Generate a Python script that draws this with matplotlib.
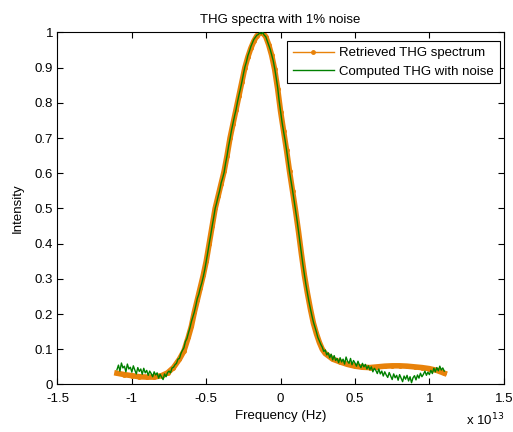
import numpy as np
import matplotlib.pyplot as plt
from matplotlib.lines import Line2D

plt.rcParams['font.family'] = ['Liberation Sans', 'DejaVu Sans']

# retrieved THG spectrum (frequency in units of 1e13 Hz)
retr_freq = [-1.10, -1.05, -1.00, -0.95, -0.90, -0.85, -0.80, -0.76, -0.72, -0.68,
             -0.65, -0.62, -0.60, -0.58, -0.56, -0.54, -0.52, -0.50, -0.48, -0.46,
             -0.44, -0.42, -0.40, -0.38, -0.36, -0.34, -0.32, -0.30, -0.28, -0.26,
             -0.24, -0.22, -0.20, -0.18, -0.16, -0.14, -0.12, -0.10, -0.08, -0.06,
             -0.04, -0.02, 0.00, 0.02, 0.04, 0.06, 0.08, 0.10, 0.12, 0.14,
             0.16, 0.18, 0.20, 0.22, 0.24, 0.26, 0.28, 0.30, 0.35, 0.40,
             0.45, 0.50, 0.55, 0.60, 0.65, 0.70, 0.75, 0.80, 0.85, 0.90,
             0.95, 1.00, 1.05, 1.10]
retr_int = [0.032, 0.028, 0.025, 0.022, 0.021, 0.021, 0.025, 0.033, 0.048, 0.072,
            0.095, 0.135, 0.165, 0.205, 0.240, 0.275, 0.310, 0.350, 0.400, 0.450,
            0.500, 0.535, 0.570, 0.605, 0.650, 0.700, 0.740, 0.780, 0.820, 0.860,
            0.900, 0.930, 0.955, 0.975, 0.990, 0.998, 0.998, 0.988, 0.965, 0.935,
            0.895, 0.840, 0.775, 0.720, 0.665, 0.605, 0.550, 0.495, 0.435, 0.370,
            0.310, 0.260, 0.215, 0.175, 0.145, 0.120, 0.100, 0.088, 0.072, 0.064,
            0.057, 0.052, 0.049, 0.048, 0.050, 0.052, 0.053, 0.053, 0.052, 0.050,
            0.048, 0.045, 0.040, 0.032]

# computed THG with 1% noise, sampled every 0.01e13 Hz from -1.1e13 to 1.1e13
noisy_int = [
    # -1.10 .. -0.80
    0.042, 0.055, 0.038, 0.061, 0.047, 0.052, 0.036, 0.058, 0.044, 0.049,
    0.035, 0.053, 0.041, 0.030, 0.048, 0.037, 0.044, 0.029, 0.046, 0.033,
    0.040, 0.026, 0.038, 0.031, 0.022, 0.036, 0.027, 0.033, 0.018, 0.029,
    0.021,
    # -0.79 .. -0.60
    0.014, 0.030, 0.022, 0.034, 0.038, 0.033, 0.047, 0.049, 0.056, 0.060,
    0.072, 0.074, 0.088, 0.097, 0.104, 0.122, 0.130, 0.146, 0.160, 0.178,
    # -0.59 .. -0.20
    0.192, 0.206, 0.224, 0.244, 0.256, 0.274, 0.288, 0.306, 0.326, 0.350,
    0.374, 0.400, 0.424, 0.450, 0.474, 0.500, 0.516, 0.534, 0.550, 0.572,
    0.586, 0.602, 0.628, 0.650, 0.676, 0.698, 0.722, 0.742, 0.762, 0.780,
    0.802, 0.822, 0.840, 0.860, 0.882, 0.902, 0.916, 0.934, 0.946, 0.960,
    # -0.19 .. 0.20
    0.970, 0.980, 0.986, 0.992, 0.994, 0.999, 0.996, 1.000, 0.992, 0.988,
    0.976, 0.964, 0.952, 0.936, 0.920, 0.898, 0.872, 0.844, 0.806, 0.774,
    0.744, 0.718, 0.694, 0.666, 0.634, 0.604, 0.578, 0.552, 0.524, 0.498,
    0.468, 0.436, 0.402, 0.370, 0.340, 0.312, 0.284, 0.260, 0.236, 0.216,
    # 0.21 .. 0.40
    0.196, 0.178, 0.164, 0.150, 0.134, 0.124, 0.114, 0.106, 0.094, 0.098,
    0.084, 0.090, 0.076, 0.086, 0.070, 0.082, 0.068, 0.074, 0.062, 0.076,
    # 0.41 .. 1.10
    0.064, 0.072, 0.058, 0.078, 0.066, 0.060, 0.074, 0.056, 0.068, 0.061,
    0.052, 0.066, 0.055, 0.048, 0.060, 0.050, 0.057, 0.044, 0.053, 0.042,
    0.050, 0.036, 0.046, 0.040, 0.031, 0.044, 0.030, 0.038, 0.024, 0.036,
    0.027, 0.020, 0.034, 0.024, 0.014, 0.030, 0.019, 0.026, 0.012, 0.028,
    0.018, 0.008, 0.024, 0.015, 0.026, 0.010, 0.022, 0.005, 0.019, 0.025,
    0.013, 0.027, 0.018, 0.032, 0.022, 0.029, 0.038, 0.026, 0.035, 0.028,
    0.040, 0.031, 0.046, 0.036, 0.048, 0.039, 0.052, 0.041, 0.047, 0.038,
]
noisy_freq = np.linspace(-1.1, 1.1, len(noisy_int))

x_ticks = [-1.5, -1, -0.5, 0, 0.5, 1, 1.5]
y_ticks = [0, 0.1, 0.2, 0.3, 0.4, 0.5, 0.6, 0.7, 0.8, 0.9, 1]

orange = '#E8820A'
green = '#008000'
fs = 9.5

fig = plt.figure(figsize=(5.13, 4.32), dpi=100)
ax = fig.add_axes([0.112, 0.110, 0.870, 0.815])

ax.plot(retr_freq, retr_int, color=orange, lw=4, marker='.', ms=5, zorder=2)
ax.plot(noisy_freq, noisy_int, color=green, lw=1, zorder=3)

ax.set_xlim(-1.5, 1.5)
ax.set_ylim(0, 1)
ax.set_xticks(x_ticks)
ax.set_yticks(y_ticks)
ax.set_xticklabels(['%g' % t for t in x_ticks])
ax.set_yticklabels(['%g' % t for t in y_ticks])
ax.tick_params(direction='in', top=True, right=True, length=4, labelsize=fs)
ax.tick_params(axis='x', pad=6)
ax.tick_params(axis='y', pad=3)
for s in ax.spines.values():
    s.set_linewidth(0.8)

ax.set_title('THG spectra with 1% noise', fontsize=fs, pad=7)
ax.set_xlabel('Frequency (Hz)', fontsize=fs, labelpad=4)
ax.set_ylabel('Intensity', fontsize=fs, labelpad=8)
ax.text(1.0, -0.078, r'x 10$^{13}$', transform=ax.transAxes, ha='right', va='top', fontsize=fs)

handles = [Line2D([], [], color=orange, lw=1, marker='.', ms=5),
           Line2D([], [], color=green, lw=1)]
leg = ax.legend(handles, ['Retrieved THG spectrum', 'Computed THG with noise'],
                loc='upper right', bbox_to_anchor=(0.991, 0.975), borderaxespad=0,
                fontsize=fs, fancybox=False, framealpha=1, edgecolor='black',
                borderpad=0.45, labelspacing=0.45, handlelength=3.1, handletextpad=0.4)
leg.get_frame().set_linewidth(0.8)

fig.savefig('out.png', dpi=100)
